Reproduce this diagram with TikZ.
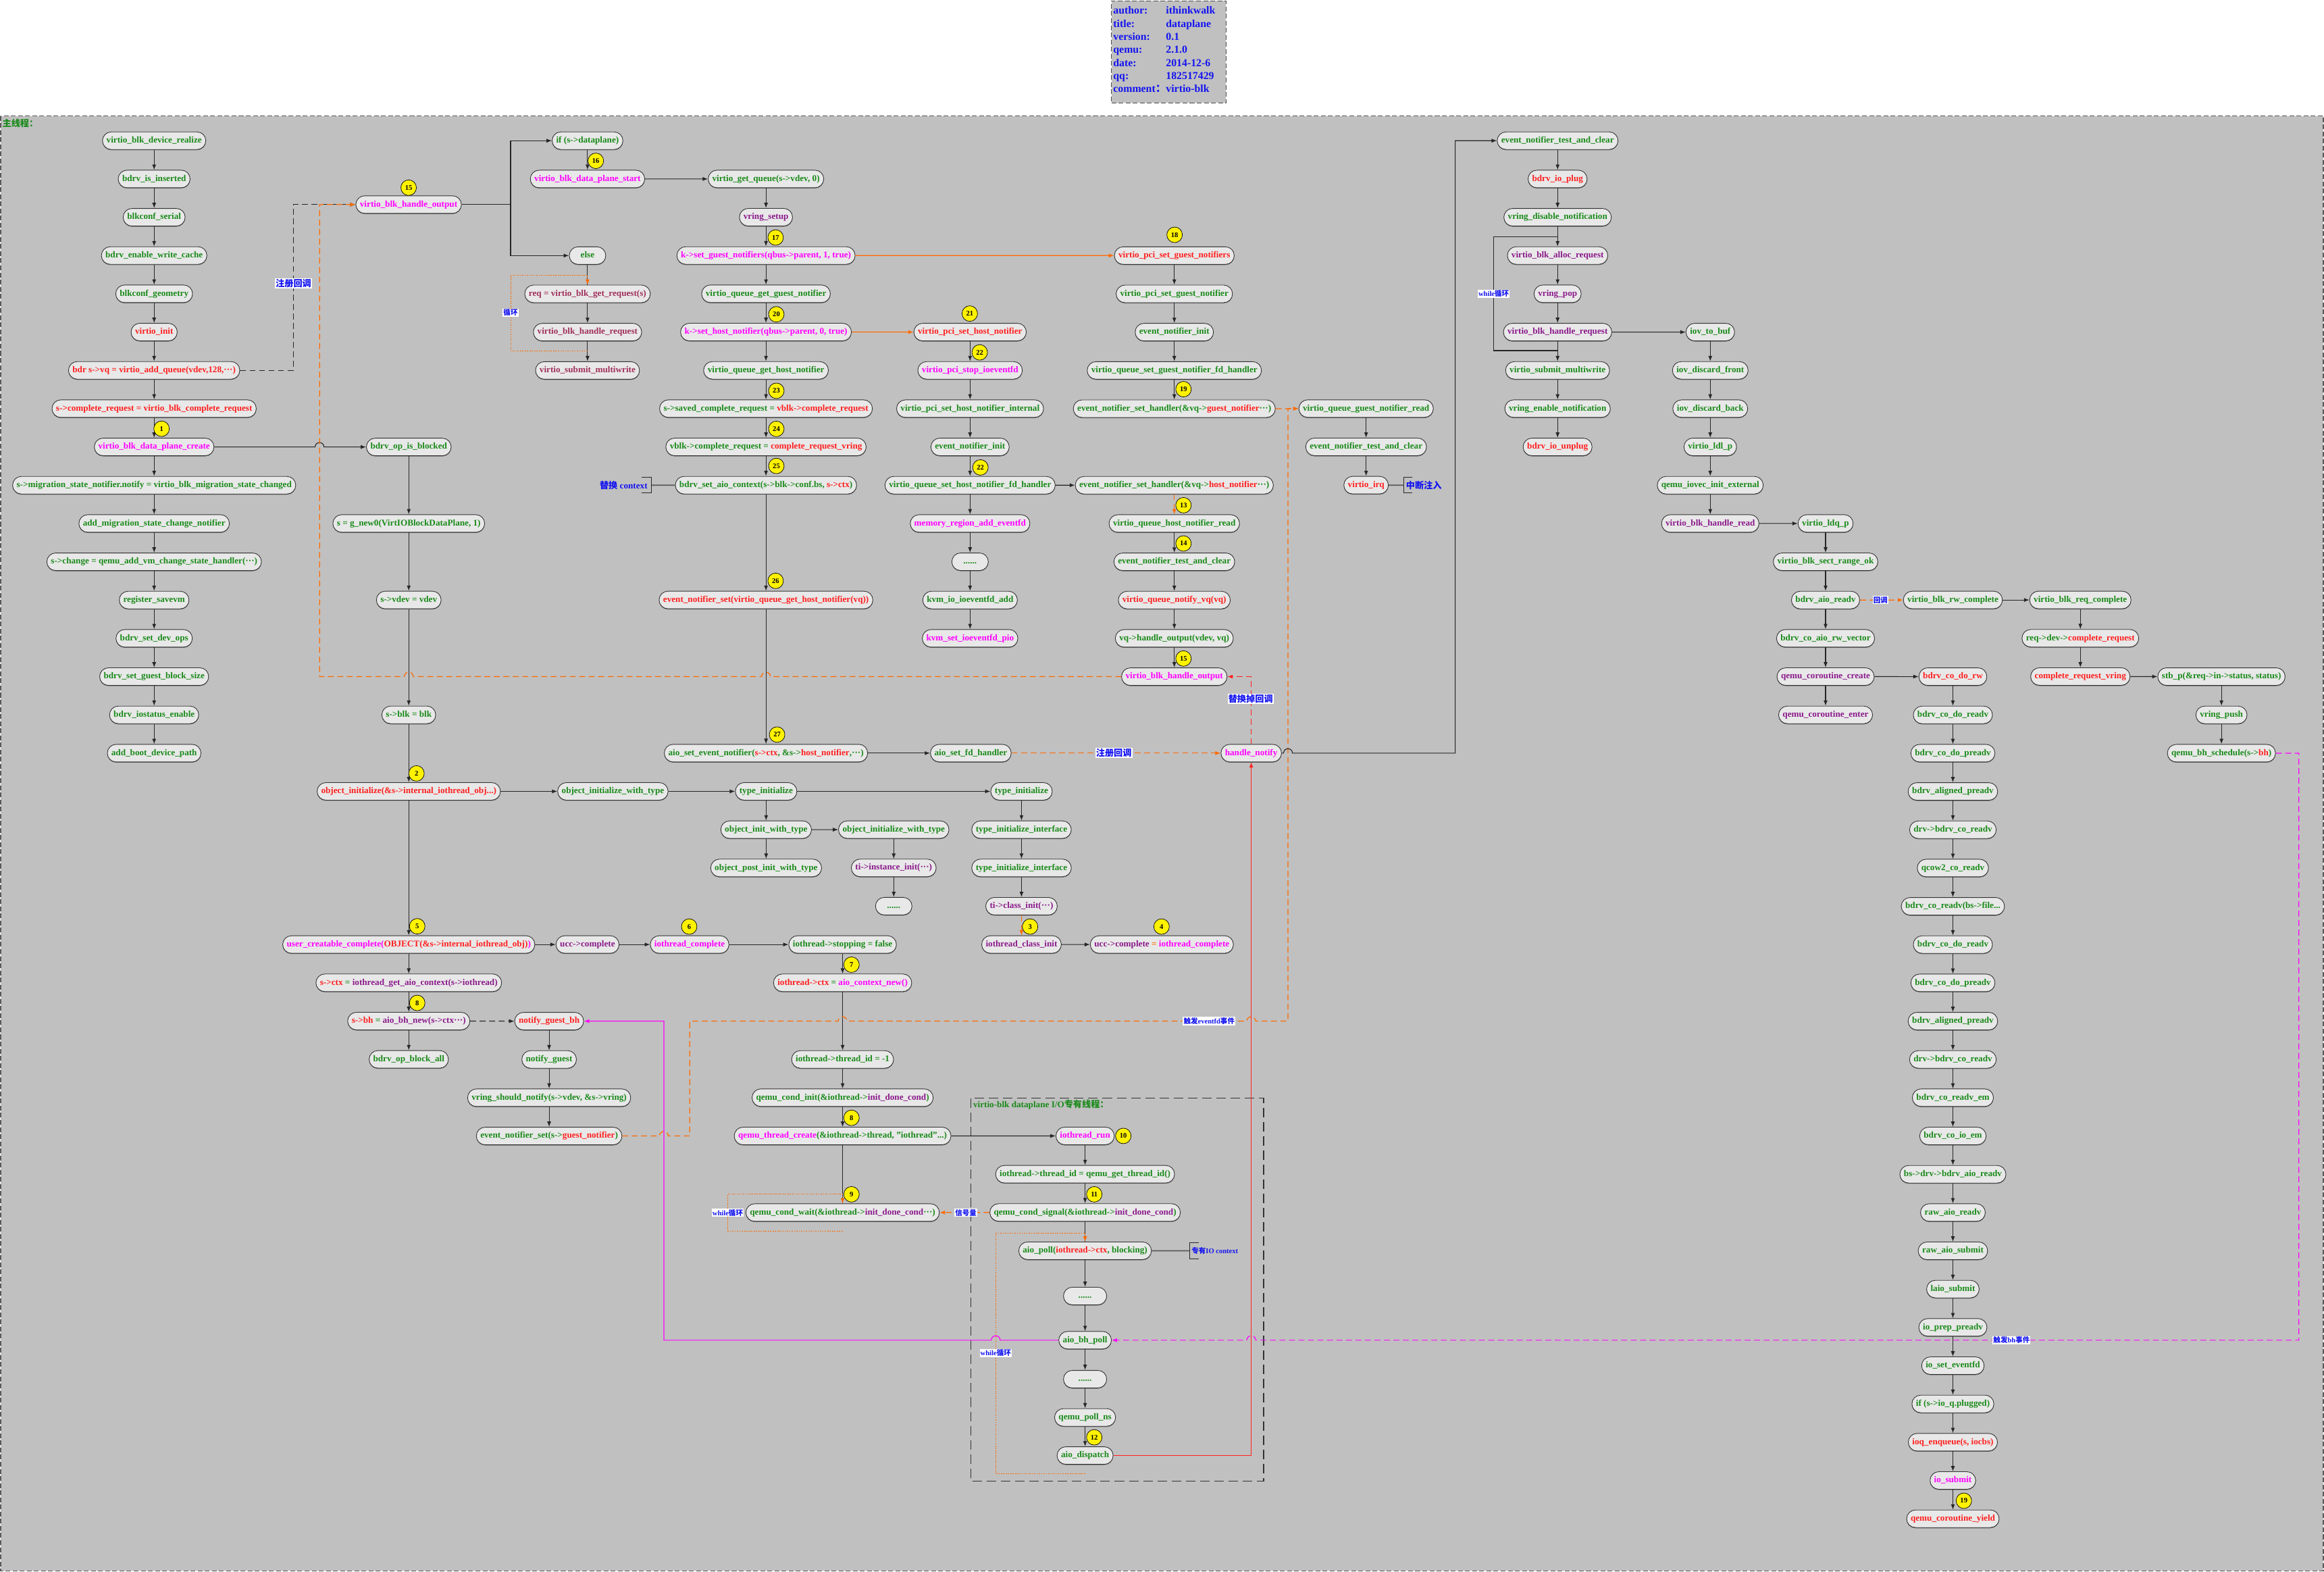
\documentclass[tikz,border=0pt]{standalone}
\usepackage{fontspec}
\setmainfont{Liberation Serif}
\newfontfamily\cjk{Noto Sans CJK SC}
\usetikzlibrary{arrows.meta,positioning,shadows}

\definecolor{bg}{HTML}{C0C0C0}
\definecolor{boxfill}{HTML}{E8E8E8}
\definecolor{cgreen}{HTML}{1A8A1A}
\definecolor{cred}{HTML}{FF2020}
\definecolor{cmag}{HTML}{FF00FF}
\definecolor{cpurp}{HTML}{8B1A8B}
\definecolor{cmauve}{HTML}{A0305A}
\definecolor{corange}{HTML}{FF6A00}
\definecolor{cblue}{HTML}{1414F0}

\newcommand{\fnfont}{\fontsize{7.5pt}{9pt}\selectfont\bfseries}
\newcommand{\labfont}{\fontsize{7.5pt}{9pt}\selectfont\bfseries}
\newcommand{\notefont}{\fontsize{6pt}{7pt}\selectfont\bfseries}
\newcommand{\zh}[1]{{\cjk #1}}
\newcommand{\cR}[1]{\textcolor{cred}{#1}}
\newcommand{\cM}[1]{\textcolor{cmag}{#1}}
\newcommand{\cV}[1]{\textcolor{cpurp}{#1}}
\newcommand{\cG}[1]{\textcolor{cgreen}{#1}}
\newcommand{\cO}[1]{\textcolor{corange}{#1}}

\begin{document}
\begin{tikzpicture}[x=0.0439cm,y=-0.0439cm,node distance=1.1335cm,
  fn/.style={draw=black!80,fill=boxfill,rounded corners=0.26cm,minimum height=0.52cm,
    minimum width=1.08cm,inner xsep=0.12cm,inner ysep=0pt,text height=5.3pt,text depth=1.6pt,
    text=cgreen,font=\fnfont,line width=0.5pt,general shadow={shadow yshift=-0.6pt,fill=black!55}},
  fnr/.style={fn,text=cred},
  fnm/.style={fn,text=cmag},
  fnv/.style={fn,text=cpurp},
  fnq/.style={fn,text=cmauve},
  badge/.style={circle,draw=black,fill=yellow,inner sep=0pt,minimum size=0.46cm,
    font=\fontsize{6pt}{7pt}\selectfont\bfseries},
  ln/.style={draw=black!85,line width=0.65pt},
  go/.style={ln,-{Latex[length=4.5pt,width=3.4pt]}},
  kdash/.style={go,dash pattern=on 5pt off 3pt},
  ogo/.style={draw=corange,line width=0.7pt,-{Latex[length=4.5pt,width=3.4pt]}},
  odash/.style={ogo,dash pattern=on 5pt off 3pt},
  odot/.style={draw=corange,line width=0.5pt,dash pattern=on 1pt off 1pt},
  odotgo/.style={odot,-{Latex[length=4.5pt,width=3.4pt]}},
  mline/.style={draw=cmag,line width=0.7pt,-{Latex[length=4.5pt,width=3.4pt]}},
  mdash/.style={mline,dash pattern=on 5pt off 3pt},
  rline/.style={draw=cred,line width=0.6pt,-{Latex[length=4.5pt,width=3.4pt]}},
  rdash/.style={rline,dash pattern=on 5pt off 3pt},
  note/.style={fill=white,inner sep=0.6pt,text=cblue,font=\notefont},
  bignote/.style={note,font=\labfont}]

\path[use as bounding box,fill=white] (0,0) rectangle (1568,1060);

% background boxes
\draw[draw=black!65,dash pattern=on 4pt off 2pt,line width=0.8pt,fill=bg] (0.4,78.2) rectangle (1567.6,1059.6);
\node[anchor=north west,text=cgreen,font=\labfont,inner sep=0pt] (maintitle) at (1.5,80) {\zh{主线程：}};
\draw[draw=black!80,dash pattern=on 8pt off 4pt,line width=0.8pt] (654.9,740.8) rectangle (852.6,999.1);
\node[anchor=north west,text=cgreen,font=\labfont,inner sep=0pt] (threadtitle) at (656.5,741.8) {virtio-blk dataplane I/O\zh{专有线程：}};

% info box
\node[draw=black!70,dash pattern=on 4pt off 2pt,line width=0.8pt,fill=bg,minimum width=3.40cm,minimum height=3.02cm,
  anchor=north west,inner sep=0pt] (info) at (749.5,0.3) {};
\node[anchor=north west,text=cblue,font=\fontsize{9pt}{11pt}\selectfont\bfseries,inner sep=0pt] (infotext) at (751,3.2)
  {\begin{tabular}{@{}p{1.56cm}@{}l@{}}
   author: & ithinkwalk\\
   title: & dataplane\\
   version: & 0.1\\
   qemu: & 2.1.0\\
   date: & 2014-12-6\\
   qq: & 182517429\\
   comment\zh{：} & virtio-blk
   \end{tabular}};

% main thread, left column
\node[fn] (realize) at (104,94.9) {virtio\_blk\_device\_realize};
\node[fn,below of=realize] (inserted) {bdrv\_is\_inserted};
\node[fn,below of=inserted] (serial) {blkconf\_serial};
\node[fn,below of=serial] (wcache) {bdrv\_enable\_write\_cache};
\node[fn,below of=wcache] (geometry) {blkconf\_geometry};
\node[fnr,below of=geometry] (vinit) {virtio\_init};
\node[fnr,below of=vinit] (addq) {bdr s->vq = virtio\_add\_queue(vdev,128,···)};
\node[fnr,below of=addq] (creq) {s->complete\_request = virtio\_blk\_complete\_request};
\node[fnm,below of=creq] (dpcreate) {virtio\_blk\_data\_plane\_create};
\node[fn,below of=dpcreate] (migr) {s->migration\_state\_notifier.notify = virtio\_blk\_migration\_state\_changed};
\node[fn,below of=migr] (addmigr) {add\_migration\_state\_change\_notifier};
\node[fn,below of=addmigr] (vmchange) {s->change = qemu\_add\_vm\_change\_state\_handler(···)};
\node[fn,below of=vmchange] (savevm) {register\_savevm};
\node[fn,below of=savevm] (devops) {bdrv\_set\_dev\_ops};
\node[fn,below of=devops] (blksize) {bdrv\_set\_guest\_block\_size};
\node[fn,below of=blksize] (iostatus) {bdrv\_iostatus\_enable};
\node[fn,below of=iostatus] (bootpath) {add\_boot\_device\_path};

% data plane create
\node[fn] (opblocked) at (275.8,301.5) {bdrv\_op\_is\_blocked};
\node[fn] (gnew) at (275.8,353.1) {s = g\_new0(VirtIOBlockDataPlane, 1)};
\node[fn] (vdev) at (275.8,404.7) {s->vdev = vdev};
\node[fn] (sblk) at (275.8,482.2) {s->blk = blk};
\node[fnr] (objinit) at (275.8,533.8) {object\_initialize(\&s->internal\_iothread\_obj...)};
\node[fnm] (ucc) at (275.8,637.1) {user\_creatable\_complete(\cR{OBJECT(\&s->internal\_iothread\_obj)})};
\node[fn,below of=ucc] (sctx) {\cR{s->ctx} = \cV{iothread\_get\_aio\_context(s->iothread)}};
\node[fn,below of=sctx] (sbh) {\cR{s->bh} = \cV{aio\_bh\_new(s->ctx···)}};
\node[fn,below of=sbh] (blockall) {bdrv\_op\_block\_all};

\node[fnr] (ngbh) at (370.5,688.8) {notify\_guest\_bh};
\node[fn,below of=ngbh] (ng) {notify\_guest};
\node[fn,below of=ng] (vsn) {vring\_should\_notify(s->vdev, \&s->vring)};
\node[fn,below of=vsn] (enset) {event\_notifier\_set(s->\cR{guest\_notifier})};

% handle output
\node[fnm] (hout) at (275.7,138) {virtio\_blk\_handle\_output};
\node[fn] (ifdp) at (396.4,94.9) {if (s->dataplane)};
\node[fnm,below of=ifdp] (dpstart) {virtio\_blk\_data\_plane\_start};
\node[fn] (elsenode) at (396.4,172.4) {else};
\node[fnq,below of=elsenode] (getreq) {req = virtio\_blk\_get\_request(s)};
\node[fnq,below of=getreq] (handlereq) {virtio\_blk\_handle\_request};
\node[fnq,below of=handlereq] (submitmw) {virtio\_submit\_multiwrite};

% data plane start
\node[fn] (getqueue) at (516.8,120.7) {virtio\_get\_queue(s->vdev, 0)};
\node[fnv,below of=getqueue] (vringsetup) {vring\_setup};
\node[fnm,below of=vringsetup] (setguest) {k->set\_guest\_notifiers(qbus->parent, 1, true)};
\node[fn,below of=setguest] (getguestn) {virtio\_queue\_get\_guest\_notifier};
\node[fnm,below of=getguestn] (sethost) {k->set\_host\_notifier(qbus->parent, 0, true)};
\node[fn,below of=sethost] (gethostn) {virtio\_queue\_get\_host\_notifier};
\node[fn,below of=gethostn] (savedcr) {s->saved\_complete\_request = \cR{vblk->complete\_request}};
\node[fn,below of=savedcr] (vblkcr) {vblk->complete\_request = \cR{complete\_request\_vring}};
\node[fn,below of=vblkcr] (setaioctx) {bdrv\_set\_aio\_context(s->blk->conf.bs, \cR{s->ctx})};
\node[fnr] (ensethost) at (516.8,404.7) {event\_notifier\_set(virtio\_queue\_get\_host\_notifier(vq))};
\node[fn] (aioseten) at (516.8,508) {aio\_set\_event\_notifier(\cR{s->ctx}, \&s->\cR{host\_notifier},···)};
\node[fn] (setfdh) at (655,508) {aio\_set\_fd\_handler};
\node[fnm] (hnotify) at (844.2,508) {handle\_notify};

\node[fnr] (pcisethost) at (654.5,224) {virtio\_pci\_set\_host\_notifier};
\node[fnm,below of=pcisethost] (stopioev) {virtio\_pci\_stop\_ioeventfd};
\node[fn,below of=stopioev] (sethostint) {virtio\_pci\_set\_host\_notifier\_internal};
\node[fn,below of=sethostint] (eninitb) {event\_notifier\_init};
\node[fn,below of=eninitb] (setfdhost) {virtio\_queue\_set\_host\_notifier\_fd\_handler};
\node[fnm,below of=setfdhost] (mraddev) {memory\_region\_add\_eventfd};
\node[fn,below of=mraddev] (dotsa) {......};
\node[fn,below of=dotsa] (kvmadd) {kvm\_io\_ioeventfd\_add};
\node[fnm,below of=kvmadd] (kvmpio) {kvm\_set\_ioeventfd\_pio};

\node[fnr] (pcisetguests) at (792.3,172.4) {virtio\_pci\_set\_guest\_notifiers};
\node[fn,below of=pcisetguests] (pcisetguest) {virtio\_pci\_set\_guest\_notifier};
\node[fn,below of=pcisetguest] (eninita) {event\_notifier\_init};
\node[fn,below of=eninita] (setfdguest) {virtio\_queue\_set\_guest\_notifier\_fd\_handler};
\node[fn,below of=setfdguest] (ensetguest) {event\_notifier\_set\_handler(\&vq->\cR{guest\_notifier}···)};
\node[fn] (ensethosth) at (792.3,327.3) {event\_notifier\_set\_handler(\&vq->\cR{host\_notifier}···)};
\node[fn,below of=ensethosth] (hostread) {virtio\_queue\_host\_notifier\_read};
\node[fn,below of=hostread] (tclearb) {event\_notifier\_test\_and\_clear};
\node[fnr,below of=tclearb] (notifyvq) {virtio\_queue\_notify\_vq(vq)};
\node[fn,below of=notifyvq] (vqhandle) {vq->handle\_output(vdev, vq)};
\node[fnm,below of=vqhandle] (houtb) {virtio\_blk\_handle\_output};

\node[fn] (guestread) at (921.7,275.6) {virtio\_queue\_guest\_notifier\_read};
\node[fn,below of=guestread] (tcleara) {event\_notifier\_test\_and\_clear};
\node[fnr,below of=tcleara] (virq) {virtio\_irq};

% object init
\node[fn] (oiwta) at (413.5,533.8) {object\_initialize\_with\_type};
\node[fn] (tia) at (516.9,533.8) {type\_initialize};
\node[fn] (tib) at (689.2,533.8) {type\_initialize};
\node[fn,below of=tia] (oinit) {object\_init\_with\_type};
\node[fn,below of=oinit] (opost) {object\_post\_init\_with\_type};
\node[fn] (oiwtb) at (603,559.6) {object\_initialize\_with\_type};
\node[fnv,below of=oiwtb] (instinit) {ti->instance\_init(···)};
\node[fn,below of=instinit] (dotsb) {......};
\node[fn,below of=tib] (tiia) {type\_initialize\_interface};
\node[fn,below of=tiia] (tiib) {type\_initialize\_interface};
\node[fnv,below of=tiib] (classinit) {ti->class\_init(···)};
\node[fnv,below of=classinit] (iotclass) {iothread\_class\_init};
\node[fnv] (uccset) at (783.9,637.1) {ucc->complete \cO{=} \cM{iothread\_complete}};

\node[fnv] (uccc) at (396.4,637.1) {ucc->complete};
\node[fnm] (iotcomplete) at (465.3,637.1) {iothread\_complete};
\node[fn] (iotstop) at (568.5,637.1) {iothread->stopping = false};
\node[fn,below of=iotstop] (iotctx) {\cR{iothread->ctx} = \cM{aio\_context\_new()}};
\node[fn] (iottid) at (568.5,714.6) {iothread->thread\_id = -1};
\node[fn,below of=iottid] (condinit) {qemu\_cond\_init(\&iothread->\cV{init\_done\_cond})};
\node[fnm,below of=condinit] (thcreate) {qemu\_thread\_create\cG{(\&iothread->thread, "iothread"...)}};
\node[fn] (condwait) at (568.5,817.9) {qemu\_cond\_wait(\&iothread->\cV{init\_done\_cond}···)};

% io thread
\node[fnm] (iotrun) at (732.1,766.2) {iothread\_run};
\node[fn,below of=iotrun] (gettid) {iothread->thread\_id = qemu\_get\_thread\_id()};
\node[fn,below of=gettid] (condsig) {qemu\_cond\_signal(\&iothread->\cV{init\_done\_cond})};
\node[fn,below of=condsig] (aiopoll) {aio\_poll(\cR{iothread->ctx}, blocking)};
\node[fn,minimum width=1.28cm] (dotsc) at (732.1,874.2) {......};
\node[fn] (bhpoll) at (732.1,904) {aio\_bh\_poll};
\node[fn,minimum width=1.28cm] (dotsd) at (732.1,930.3) {......};
\node[fn] (pollns) at (732.1,956.1) {qemu\_poll\_ns};
\node[fn] (dispatch) at (732.1,981.8) {aio\_dispatch};

% handle notify
\node[fn] (tclearc) at (1050.9,94.9) {event\_notifier\_test\_and\_clear};
\node[fnr,below of=tclearc] (ioplug) {bdrv\_io\_plug};
\node[fn,below of=ioplug] (vdisable) {vring\_disable\_notification};
\node[fnv,below of=vdisable] (allocreq) {virtio\_blk\_alloc\_request};
\node[fnv,below of=allocreq] (vpop) {vring\_pop};
\node[fnv,below of=vpop] (handlereqb) {virtio\_blk\_handle\_request};
\node[fn,below of=handlereqb] (submitmwb) {virtio\_submit\_multiwrite};
\node[fn,below of=submitmwb] (venable) {vring\_enable\_notification};
\node[fnr,below of=venable] (iounplug) {bdrv\_io\_unplug};

\node[fn] (iovbuf) at (1153.9,224) {iov\_to\_buf};
\node[fn,below of=iovbuf] (iovfront) {iov\_discard\_front};
\node[fn,below of=iovfront] (iovback) {iov\_discard\_back};
\node[fn,below of=iovback] (ldl) {virtio\_ldl\_p};
\node[fn,below of=ldl] (iovecinit) {qemu\_iovec\_init\_external};
\node[fnv,below of=iovecinit] (hread) {virtio\_blk\_handle\_read};
\node[fn] (ldq) at (1231.7,353.1) {virtio\_ldq\_p};
\node[fn,below of=ldq] (sectok) {virtio\_blk\_sect\_range\_ok};
\node[fn,below of=sectok] (aioreadv) {bdrv\_aio\_readv};
\node[fn,below of=aioreadv] (corw) {bdrv\_co\_aio\_rw\_vector};
\node[fnv,below of=corw] (cocreate) {qemu\_coroutine\_create};
\node[fnv,below of=cocreate] (coenter) {qemu\_coroutine\_enter};

\node[fn] (rwcomplete) at (1317.6,404.7) {virtio\_blk\_rw\_complete};
\node[fnr] (codorw) at (1317.6,456.4) {bdrv\_co\_do\_rw};
\node[fn,below of=codorw] (codoreadv) {bdrv\_co\_do\_readv};
\node[fn,below of=codoreadv] (p1) {bdrv\_co\_do\_preadv};
\node[fn,below of=p1] (p2) {bdrv\_aligned\_preadv};
\node[fn,below of=p2] (p3) {drv->bdrv\_co\_readv};
\node[fn,below of=p3] (p4) {qcow2\_co\_readv};
\node[fn,below of=p4] (p5) {bdrv\_co\_readv(bs->file...};
\node[fn,below of=p5] (p6) {bdrv\_co\_do\_readv};
\node[fn,below of=p6] (p7) {bdrv\_co\_do\_preadv};
\node[fn,below of=p7] (p8) {bdrv\_aligned\_preadv};
\node[fn,below of=p8] (p9) {drv->bdrv\_co\_readv};
\node[fn,below of=p9] (p10) {bdrv\_co\_readv\_em};
\node[fn,below of=p10] (p11) {bdrv\_co\_io\_em};
\node[fn,below of=p11] (p12) {bs->drv->bdrv\_aio\_readv};
\node[fn,below of=p12] (p13) {raw\_aio\_readv};
\node[fn,below of=p13] (p14) {raw\_aio\_submit};
\node[fn,below of=p14] (p15) {laio\_submit};
\node[fn,below of=p15] (p16) {io\_prep\_preadv};
\node[fn,below of=p16] (p17) {io\_set\_eventfd};
\node[fn,below of=p17] (p18) {if (s->io\_q.plugged)};
\node[fnr,below of=p18] (p19) {ioq\_enqueue(s, iocbs)};
\node[fnm,below of=p19] (p20) {io\_submit};
\node[fnr,below of=p20] (p21) {qemu\_coroutine\_yield};

\node[fn] (reqcomplete) at (1403.6,404.7) {virtio\_blk\_req\_complete};
\node[fn,below of=reqcomplete] (devcr) {req->dev->\cR{complete\_request}};
\node[fnr,below of=devcr] (crvring) {complete\_request\_vring};
\node[fn] (stbp) at (1498.8,456.4) {stb\_p(\&req->in->status, status)};
\node[fn,below of=stbp] (vpush) {vring\_push};
\node[fn,below of=vpush] (bhsched) {qemu\_bh\_schedule(s->\cR{bh})};

% plain calls
\foreach \a/\b in {realize/inserted,inserted/serial,serial/wcache,wcache/geometry,geometry/vinit,
  vinit/addq,addq/creq,creq/dpcreate,dpcreate/migr,migr/addmigr,addmigr/vmchange,vmchange/savevm,
  savevm/devops,devops/blksize,blksize/iostatus,iostatus/bootpath,
  opblocked/gnew,gnew/vdev,vdev/sblk,sblk/objinit,objinit/ucc,ucc/sctx,sctx/sbh,sbh/blockall,
  objinit/oiwta,oiwta/tia,tia/tib,tia/oinit,oinit/opost,oinit/oiwtb,oiwtb/instinit,instinit/dotsb,
  tib/tiia,tiia/tiib,tiib/classinit,iotclass/uccset,
  ucc/uccc,uccc/iotcomplete,iotcomplete/iotstop,iotstop/iotctx,iotctx/iottid,iottid/condinit,
  condinit/thcreate,thcreate/iotrun,iotrun/gettid,gettid/condsig,
  aiopoll/dotsc,dotsc/bhpoll,bhpoll/dotsd,dotsd/pollns,pollns/dispatch,
  ngbh/ng,ng/vsn,vsn/enset,
  ifdp/dpstart,dpstart/getqueue,getreq/handlereq,handlereq/submitmw,
  getqueue/vringsetup,vringsetup/setguest,setguest/getguestn,getguestn/sethost,sethost/gethostn,
  gethostn/savedcr,savedcr/vblkcr,vblkcr/setaioctx,setaioctx/ensethost,ensethost/aioseten,aioseten/setfdh,
  pcisethost/stopioev,stopioev/sethostint,sethostint/eninitb,eninitb/setfdhost,setfdhost/mraddev,
  mraddev/dotsa,dotsa/kvmadd,kvmadd/kvmpio,setfdhost/ensethosth,
  pcisetguests/pcisetguest,pcisetguest/eninita,eninita/setfdguest,setfdguest/ensetguest,
  hostread/tclearb,tclearb/notifyvq,notifyvq/vqhandle,vqhandle/houtb,
  guestread/tcleara,tcleara/virq,
  tclearc/ioplug,ioplug/vdisable,vdisable/allocreq,allocreq/vpop,vpop/handlereqb,
  handlereqb/submitmwb,submitmwb/venable,venable/iounplug,
  handlereqb/iovbuf,iovbuf/iovfront,iovfront/iovback,iovback/ldl,ldl/iovecinit,iovecinit/hread,
  hread/ldq,ldq/sectok,sectok/aioreadv,aioreadv/corw,corw/cocreate,cocreate/coenter,
  cocreate/codorw,codorw/codoreadv,codoreadv/p1,
  rwcomplete/reqcomplete,reqcomplete/devcr,devcr/crvring,crvring/stbp,stbp/vpush,vpush/bhsched}
  \draw[go] (\a) -- (\b);
\foreach \i [count=\j from 2] in {1,...,20}
  \draw[go] (p\i) -- (p\j);

% lines whose tip comes from a loop
\draw[ln] (elsenode) -- (getreq);
\draw[ln] (thcreate) -- (condwait);
\draw[ln] (condsig) -- (aiopoll);

% branches and callbacks (small arcs hop over crossing lines)
\draw[go] (dpcreate.east) -- (212.6,301.5) arc[start angle=180,end angle=360,radius=3] -- (opblocked.west);
\draw[ln] (hout.east) -- (344.5,138);
\draw[go] (344.5,138) |- (ifdp.west);
\draw[go] (344.5,138) |- (elsenode.west);
\draw[kdash] (addq.east) -| (198,138) -- (hout.west);
\draw[odash] (houtb.west) -- (519.8,456.4) arc[start angle=360,end angle=180,radius=3]
  -- (278.8,456.4) arc[start angle=360,end angle=180,radius=3] -| (215.6,138) -- (hout.west);
\draw[ogo] (setguest) -- (pcisetguests);
\draw[ogo] (sethost) -- (pcisethost);
\draw[odash] (ensethosth) -- (hostread);
\draw[odash] (ensetguest) -- (guestread);
\draw[odash] (classinit) -- (iotclass);
\draw[odash] (setfdh) -- (hnotify);
\draw[odash] (aioreadv) -- (rwcomplete);
\draw[odash] (condsig) -- (condwait);
\draw[odash] (enset.east) -- (444.9,766.2) arc[start angle=180,end angle=360,radius=3] -| (465.4,688.8)
  -- (565.5,688.8) arc[start angle=180,end angle=360,radius=3]
  -- (841.2,688.8) arc[start angle=180,end angle=360,radius=3] -| (869,275.6) -- (guestread.west);
\draw[go] (hnotify.east) -- (866,508) arc[start angle=180,end angle=360,radius=3] -| (981.8,94.9) -- (tclearc.west);
\draw[rdash] (hnotify.north) |- (houtb.east);
\draw[rline] (dispatch.east) -| (hnotify.south);
\draw[kdash] (sbh) -- (ngbh);
\draw[mline] (bhpoll.west) -- (674.8,904) arc[start angle=360,end angle=180,radius=3] -| (447.9,688.8) -- (ngbh.east);
\draw[mdash] (bhsched.east) -| (1551,904) -- (847.2,904) arc[start angle=360,end angle=180,radius=3] -- (bhpoll.east);

% loops
\draw[odotgo] (396.4,236.5) -| (344.5,185.7) -| (getreq.north);
\draw[odotgo] (568.5,830.5) -| (491.1,805.6) -| (condwait.north);
\draw[odotgo] (732.1,994) -| (671.8,831.6) -| (aiopoll.north);
\draw[ln] (1050.9,236.5) -| (1007.8,159.9) -- (1050.9,159.9);

% side notes
\coordinate (ctxbr) at (439.6,327.3);
\draw[ln] (433,322) -| (439.6,332.6) -- (433,332.6);
\draw[ln,draw=black!65,line width=1pt] (ctxbr) -- (setaioctx.west);
\node[anchor=east,text=cblue,font=\labfont,inner sep=0pt] (ctxnote) at (437,327.3) {\zh{替换} context};
\coordinate (irqbr) at (947.2,327.3);
\draw[ln] (953,322) -| (947.2,332.6) -- (953,332.6);
\draw[ln,draw=black!65,line width=1pt] (virq.east) -- (irqbr);
\node[anchor=west,text=cblue,font=\labfont,inner sep=0pt] (irqnote) at (948.5,327.3) {\zh{中断注入}};
\coordinate (iobr) at (802.6,843.7);
\draw[ln] (808.7,838.4) -| (802.6,849) -- (808.7,849);
\draw[ln,draw=black!65,line width=1pt] (aiopoll.east) -- (iobr);
\node[anchor=west,text=cblue,font=\notefont,inner sep=0pt] (ionote) at (803.8,843.7) {\zh{专有}IO context};

\node[bignote] (regnote) at (198,191) {\zh{注册回调}};
\node[bignote] (regnoteb) at (751.5,508) {\zh{注册回调}};
\node[bignote] (replnote) at (843.8,471.5) {\zh{替换掉回调}};
\node[note] (loopnote) at (344.5,211) {\zh{循环}};
\node[note] (whilea) at (1007.8,198.2) {while\zh{循环}};
\node[note] (whileb) at (491,818) {while\zh{循环}};
\node[note] (whilec) at (671.8,912.6) {while\zh{循环}};
\node[note] (signote) at (651.7,818) {\zh{信号量}};
\node[note] (evnote) at (815.8,688.8) {\zh{触发}eventfd\zh{事件}};
\node[note] (bhnote) at (1357.2,904) {\zh{触发}bh\zh{事件}};
\node[note] (cbnote) at (1268.8,404.7) {\zh{回调}};

% step numbers
\node[badge] (n1) at (109,289.2) {1};
\node[badge] (n2) at (281,521.7) {2};
\node[badge] (n3) at (695,625) {3};
\node[badge] (n4) at (783.7,625) {4};
\node[badge] (n5) at (281.5,624.8) {5};
\node[badge] (n6) at (465,625) {6};
\node[badge] (n7) at (574.5,650.7) {7};
\node[badge] (n8a) at (281.5,676.5) {8};
\node[badge] (n8b) at (574.5,754) {8};
\node[badge] (n9) at (574.5,805.6) {9};
\node[badge] (n10) at (757.9,766.2) {10};
\node[badge] (n11) at (738.3,805.6) {11};
\node[badge] (n12) at (738.3,969.5) {12};
\node[badge] (n13) at (798.5,340.8) {13};
\node[badge] (n14) at (798.5,366.6) {14};
\node[badge] (n15a) at (275.7,126.6) {15};
\node[badge] (n15b) at (798.5,444.2) {15};
\node[badge] (n16) at (402,108.5) {16};
\node[badge] (n17) at (523.3,160.2) {17};
\node[badge] (n18) at (792.5,158.4) {18};
\node[badge] (n19a) at (798.5,262.5) {19};
\node[badge] (n19b) at (1325,1012.3) {19};
\node[badge] (n20) at (523.8,212) {20};
\node[badge] (n21) at (654.3,211.5) {21};
\node[badge] (n22a) at (661,237.7) {22};
\node[badge] (n22b) at (661.5,315.3) {22};
\node[badge] (n23) at (523.8,263.6) {23};
\node[badge] (n24) at (523.8,289.3) {24};
\node[badge] (n25) at (523.8,314.3) {25};
\node[badge] (n26) at (523.3,391.8) {26};
\node[badge] (n27) at (524.3,495.5) {27};
\end{tikzpicture}
\end{document}
